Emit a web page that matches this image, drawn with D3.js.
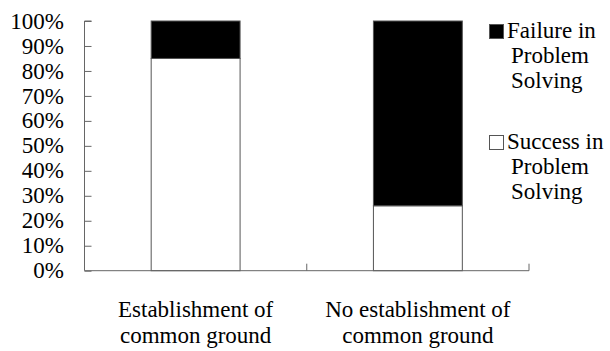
<!DOCTYPE html>
<html><head><meta charset="utf-8">
<script src="https://cdn.jsdelivr.net/npm/d3@7"></script>
</head><body style="margin:0;background:#fff">
<svg id="c" width="610" height="351"></svg>
<script>
const categories = [["Establishment of","common ground"],["No establishment of","common ground"]];
const success = [85, 26];
const failure = [15, 74];
const seriesNames = [["Failure in","Problem","Solving"],["Success in","Problem","Solving"]];
const yTicks = [0,10,20,30,40,50,60,70,80,90,100];

(function(){
const svg = d3.select("#c");
const FF = "'Liberation Serif', 'Times New Roman', serif";
const mLeft = 84.5, mRight = 529, mTop = 21, mBottom = 270.7;
const fs = 23;
const x = d3.scaleBand().domain(d3.range(categories.length)).range([mLeft, mRight]).paddingInner(0.6).paddingOuter(0.3);
const xOuter = d3.scaleBand().domain(d3.range(categories.length)).range([mLeft, mRight]);
const y = d3.scaleLinear().domain([0,100]).range([mBottom, mTop]);

// bars
const stack = categories.map((c,i)=>({i, s: success[i], f: failure[i]}));
const g = svg.append("g");
g.selectAll("rect.s").data(stack).join("rect")
  .attr("x", d=>x(d.i)).attr("width", x.bandwidth())
  .attr("y", d=>y(d.s)).attr("height", d=>y(0)-y(d.s))
  .attr("fill","#fff").attr("stroke","#555").attr("stroke-width",1);
g.selectAll("rect.f").data(stack).join("rect")
  .attr("x", d=>x(d.i)).attr("width", x.bandwidth())
  .attr("y", d=>y(d.s+d.f)).attr("height", d=>y(d.s)-y(d.s+d.f))
  .attr("fill","#000").attr("stroke","#555").attr("stroke-width",1);

// y axis
const ya = svg.append("g").attr("transform",`translate(${mLeft},0)`)
  .call(d3.axisRight(y).tickValues(yTicks).tickSize(7).tickFormat(""));
ya.select(".domain").attr("stroke","#666").attr("d",`M7,${mTop}H0V${mBottom}`);
ya.selectAll(".tick line").attr("stroke","#666");
svg.append("g").selectAll("text").data(yTicks).join("text")
  .attr("x", 64).attr("y", d=>y(d)).attr("dy","0.33em")
  .attr("text-anchor","end").attr("font-size",fs).attr("fill","#000")
  .style("font-family",FF).text(d=>d+"%");

// x axis
const xa = svg.append("g").attr("transform",`translate(0,${mBottom})`);
xa.append("line").attr("x1",mLeft).attr("x2",mRight).attr("y1",0).attr("y2",0).attr("stroke","#666");
const xt = d3.range(categories.length+1).map(i=> i<categories.length ? xOuter(i) : mRight);
xa.selectAll("line.t").data(xt.slice(1)).join("line")
  .attr("x1",d=>d).attr("x2",d=>d).attr("y1",0).attr("y2",-7).attr("stroke","#666");
categories.forEach((c,i)=>{
  const t = svg.append("text").attr("text-anchor","middle").attr("font-size",fs).attr("fill","#000").style("font-family",FF);
  c.forEach((line,k)=>t.append("tspan").attr("x", x(i)+x.bandwidth()/2).attr("y", 316.7+k*26).text(line));
});

// legend
const legY = [24, 135];
const legFill = ["#000","#fff"];
seriesNames.forEach((lines,i)=>{
  svg.append("rect").attr("x",489.5).attr("y",legY[i]+0.5).attr("width",14).attr("height",14)
    .attr("fill",legFill[i]).attr("stroke","#555");
  const t = svg.append("text").attr("font-size",fs).attr("fill","#000").style("font-family",FF);
  lines.forEach((line,k)=>t.append("tspan").attr("x",k===0?507:511).attr("y",legY[i]+14+k*25).text(line));
});
})();
</script>
</body></html>
